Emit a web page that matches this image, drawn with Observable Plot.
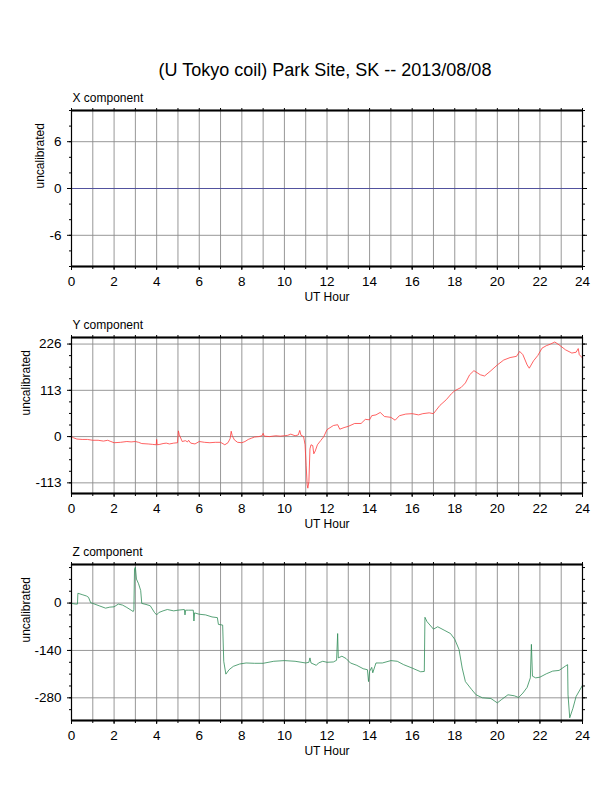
<!DOCTYPE html>
<html>
<head>
<meta charset="utf-8">
<script src="https://cdn.jsdelivr.net/npm/d3@7"></script>
<script src="https://cdn.jsdelivr.net/npm/@observablehq/plot@0.6"></script>
<style>
  html, body { margin: 0; padding: 0; background: white; }
  #wrap { position: relative; width: 612px; height: 792px; font-family: "Liberation Sans", Arial, sans-serif; }
  #title { position: absolute; left: 0; width: 650px; top: 60px; line-height: 20px; font-size: 18px; text-align: center; color: black; }
  #wrap svg { position: absolute; left: 0; }
</style>
</head>
<body>
<div id="wrap">
  <div id="title">(U Tokyo coil) Park Site, SK -- 2013/08/08</div>
</div>
<script>
const titleText = "(U Tokyo coil) Park Site, SK -- 2013/08/08";
const xAxisLabel = "UT Hour";
const yAxisLabel = "uncalibrated";
const panelNames = ["X component", "Y component", "Z component"];
const hourTicks = [0, 2, 4, 6, 8, 10, 12, 14, 16, 18, 20, 22, 24];
const hourGrid = d3.range(0, 25, 1);

// X component (flat)
const xHours = [0, 24];
const xValues = [0, 0];
const xDomain = [-10, 10];
const xMajor = [-6, 0, 6];
const xMinor = [-10, -8, -6, -4, -2, 0, 2, 4, 6, 8, 10];

// Y component
const yHours = [0,0.1,0.25,0.5,0.75,1,1.25,1.5,1.7,1.85,2,2.3,2.6,2.8,3,3.15,3.3,3.6,3.8,3.98,4.0,4.02,4.15,4.3,4.45,4.6,4.8,4.98,5.02,5.06,5.1,5.2,5.35,5.45,5.5,5.6,5.8,6,6.25,6.5,6.75,7,7.2,7.35,7.45,7.5,7.55,7.65,7.8,8,8.15,8.3,8.45,8.6,8.8,8.95,9.0,9.05,9.3,9.6,9.8,10,10.15,10.3,10.5,10.65,10.72,10.78,10.9,10.97,11.02,11.07,11.1,11.15,11.2,11.25,11.33,11.38,11.45,11.55,11.7,11.85,12,12.3,12.5,12.6,12.8,13,13.3,13.6,13.8,14,14.1,14.3,14.5,14.7,15,15.2,15.4,15.7,16,16.3,16.5,16.8,17,17.3,17.6,17.85,18,18.3,18.5,18.7,18.9,19.2,19.4,19.7,20,20.3,20.6,20.9,21.05,21.2,21.4,21.5,21.7,21.9,22.1,22.3,22.5,22.7,22.9,23.2,23.5,23.7,23.8,23.85,24];
const yValues = [0,-3,-6,-7,-7,-9,-9,-11,-9,-12,-15,-14,-12,-13,-12,-14,-17,-18,-19,-20,-7,-20,-19,-17,-16,-18,-16,-15,14,5,0,-12,-10,-13,-9,-16,-18,-12,-14,-15,-14,-14,-20,-15,-5,13,2,-8,-14,-15,-12,-7,-4,-1,0,2,8,1,0,2,1,2,3,6,2,4,15,3,0,-20,-70,-118,-126,-110,-30,-20,-22,-42,-35,-20,-10,0,17,27,29,18,22,25,32,32,42,41,51,53,59,49,47,40,51,55,56,53,56,58,56,76,90,105,112,120,131,151,161,151,148,161,175,187,193,196,208,200,175,167,185,198,216,222,226,231,224,212,204,206,215,200,192];
const yDomain = [-139, 242];
const yMajor = [-113, 0, 113, 226];
const yMinor = [-113, -84.75, -56.5, -28.25, 0, 28.25, 56.5, 84.75, 113, 141.25, 169.5, 197.75, 226];

// Z component
const zHours = [0,0.2,0.28,0.3,0.5,0.7,0.8,0.9,1,1.3,1.6,1.8,2,2.2,2.4,2.6,2.8,2.9,2.93,2.96,3.0,3.05,3.15,3.25,3.3,3.5,3.7,3.9,4.0,4.1,4.3,4.5,4.8,5.0,5.3,5.33,5.36,5.5,5.72,5.75,5.78,6.0,6.3,6.6,6.85,6.9,7.1,7.15,7.25,7.4,7.6,7.9,8.2,8.6,9.0,9.5,10,10.5,11.0,11.15,11.2,11.25,11.5,11.6,11.8,12,12.3,12.45,12.5,12.53,12.7,12.9,13.1,13.4,13.7,13.9,13.95,14.0,14.1,14.15,14.3,14.6,15,15.3,15.6,16,16.4,16.57,16.6,16.7,17,17.2,17.5,17.8,18,18.2,18.35,18.5,18.8,19,19.3,19.7,20,20.2,20.5,20.8,21,21.2,21.4,21.55,21.6,21.65,21.8,22,22.3,22.6,22.9,23.2,23.3,23.32,23.4,23.55,23.7,24];
const zValues = [-1,-3,-3,29,25,21,17,1,-1,-8,-15,-12,-11,-3,-6,-13,-21,-25,-20,101,106,71,57,37,-1,-4,-8,-28,-35,-28,-23,-19,-23,-21,-19,-35,-21,-21,-21,-53,-29,-33,-35,-41,-43,-63,-65,-172,-210,-197,-187,-180,-177,-178,-178,-172,-170,-172,-177,-175,-162,-177,-184,-177,-172,-175,-174,-169,-90,-162,-157,-164,-177,-184,-194,-197,-232,-202,-190,-206,-177,-177,-170,-172,-182,-192,-203,-202,-42,-55,-77,-70,-80,-90,-107,-137,-192,-232,-256,-271,-280,-282,-295,-285,-271,-274,-279,-266,-249,-221,-122,-216,-221,-219,-209,-201,-199,-186,-182,-271,-339,-311,-276,-243];
const zDomain = [-347, 114];
const zMajor = [-280, -140, 0];
const zMinor = [-315, -280, -245, -210, -175, -140, -105, -70, -35, 0, 35, 70, 105];

const font = "Liberation Sans, Arial, sans-serif";
const gridColor = "#8c8c8c";

function panel(name, hours, values, color, domain, major, minor, top, labelDx) {
  const svg = Plot.plot({
    width: 612,
    height: 226,
    marginLeft: 71,
    marginRight: 30,
    marginTop: 25,
    marginBottom: 45,
    style: {fontFamily: font, background: "white", color: "black", overflow: "visible"},
    x: {domain: [0, 24], label: null},
    y: {domain, label: null},
    marks: [
      Plot.gridX(hourGrid, {stroke: gridColor, strokeOpacity: 1, strokeWidth: 0.9}),
      Plot.gridY(major, {stroke: gridColor, strokeOpacity: 1, strokeWidth: 0.9}),
      Plot.line(values, {x: hours, y: values, stroke: color, strokeWidth: 0.8}),
      Plot.axisX(hourTicks, {anchor: "bottom", tickSize: 4, tickPadding: 6, fontSize: 13.5, label: null, tickFormat: d => String(d)}),
      Plot.axisX(hourGrid, {anchor: "bottom", tickSize: 3, tickFormat: () => "", label: null}),
      Plot.axisX(hourGrid, {anchor: "top", tickSize: 3, tickFormat: () => "", label: null}),
      Plot.axisY(major, {anchor: "left", tickSize: 4, tickPadding: 6, fontSize: 13.5, label: null, tickFormat: d => String(d)}),
      Plot.axisY(minor, {anchor: "left", tickSize: 2, tickFormat: () => "", label: null}),
      Plot.axisY(major, {anchor: "right", tickSize: 4, tickFormat: () => "", label: null}),
      Plot.axisY(minor, {anchor: "right", tickSize: 2, tickFormat: () => "", label: null}),
      Plot.frame({stroke: "black", strokeWidth: 1.2}),
      Plot.ruleY(domain, {stroke: "black", strokeWidth: 2}),
      Plot.text([name], {frameAnchor: "top-left", text: d => d, textAnchor: "start", lineAnchor: "middle", dx: 1, dy: -12.5, fontSize: 12}),
      Plot.text([xAxisLabel], {frameAnchor: "bottom", text: d => d, lineAnchor: "middle", dy: 31, fontSize: 12}),
      Plot.text([yAxisLabel], {frameAnchor: "left", text: d => d, rotate: -90, lineAnchor: "middle", dx: labelDx, fontSize: 12})
    ]
  });
  svg.style.top = top + "px";
  document.getElementById("wrap").appendChild(svg);
}

panel(panelNames[0], xHours, xValues, "#4040a0", xDomain, xMajor, xMinor, 85, -31);
panel(panelNames[1], yHours, yValues, "#ff3a3a", yDomain, yMajor, yMinor, 312, -45);
panel(panelNames[2], zHours, zValues, "#2e8b57", zDomain, zMajor, zMinor, 539, -45);
</script>
</body>
</html>
